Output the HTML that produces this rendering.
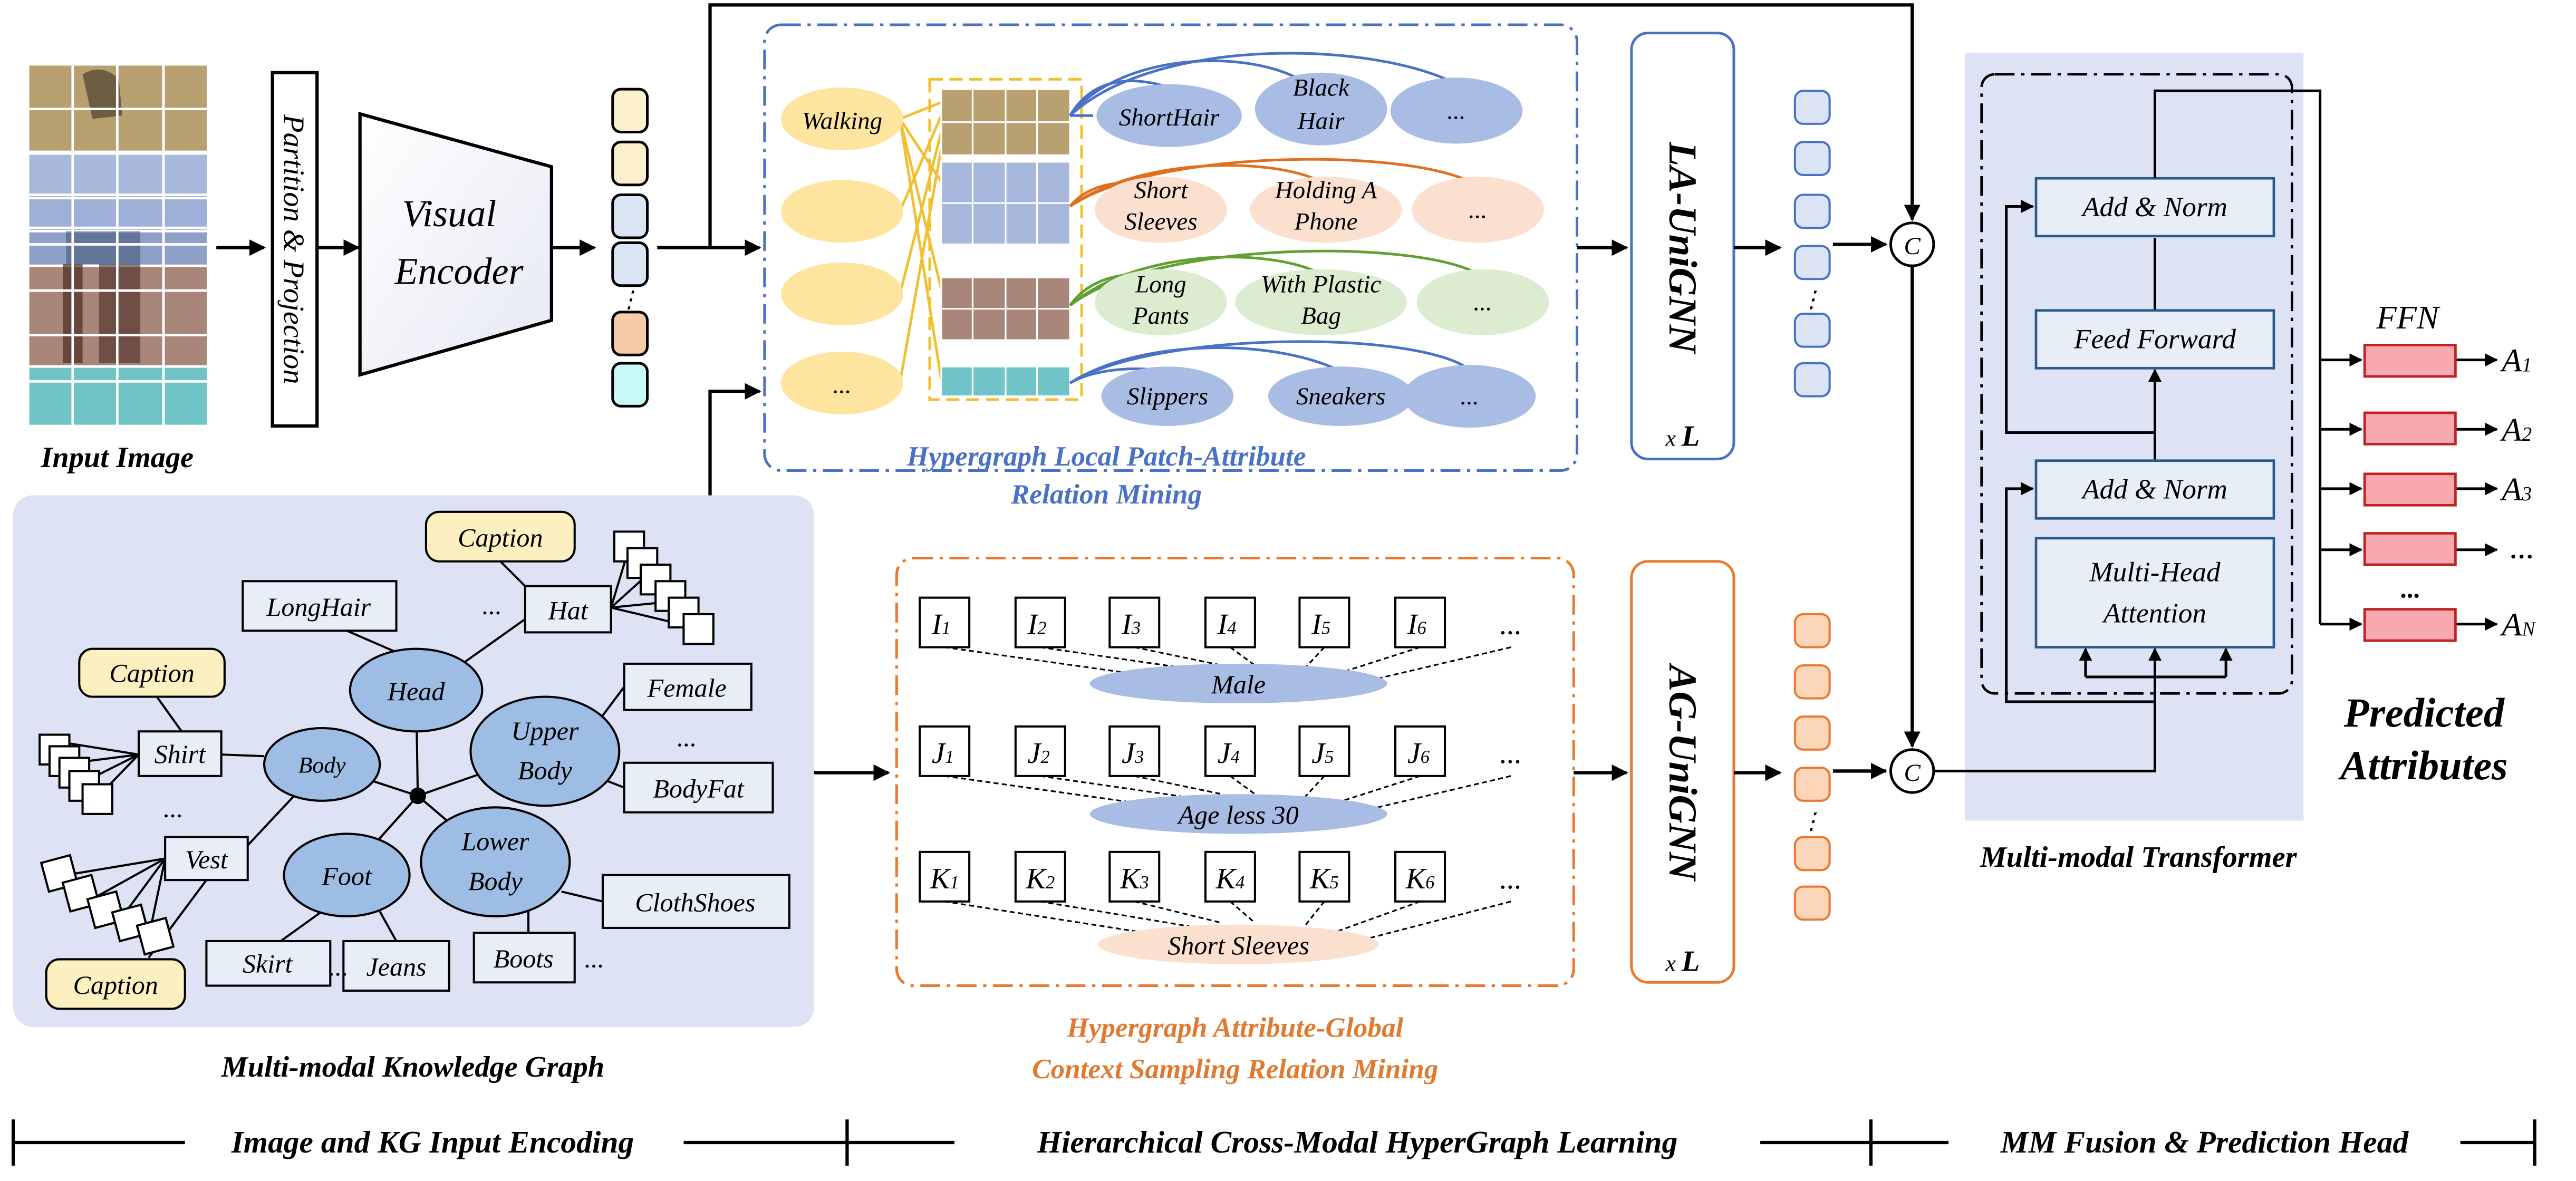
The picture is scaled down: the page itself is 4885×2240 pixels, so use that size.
<!DOCTYPE html>
<html><head><meta charset="utf-8"><style>
html,body{margin:0;padding:0;background:#fff;}
svg{display:block;}
text{font-family:"Liberation Serif",serif;font-style:italic;}
</style></head><body>
<svg width="4885" height="2240" viewBox="0 0 1560 715.3" preserveAspectRatio="none" xmlns="http://www.w3.org/2000/svg">
<defs>
<marker id="ar" viewBox="0 0 10 10" refX="9" refY="5" markerWidth="5" markerHeight="5" orient="auto"><path d="M0,0L10,5L0,10z" fill="#000"/></marker>
<linearGradient id="eg" x1="0" y1="0" x2="1" y2="1"><stop offset="0" stop-color="#fff"/><stop offset="1" stop-color="#e6e8f4"/></linearGradient>
</defs>

<!-- input image -->
<g>
<rect x="17" y="39" width="109" height="219" fill="#fff"/>
<g stroke="#fff" stroke-width="1.5">
<rect x="17" y="39" width="109" height="53" fill="#b8a070"/>
<rect x="17" y="92" width="109" height="68" fill="#a8b8dc"/>
<rect x="17" y="118" width="109" height="20" fill="#9eb0d8"/>
<rect x="17" y="140" width="109" height="21" fill="#8ea0c8"/>
<rect x="17" y="161" width="109" height="61" fill="#a8877a"/>
<rect x="17" y="222" width="109" height="36" fill="#70c4c8"/>
</g>
<path d="M50 45 Q62 38 72 48 L74 70 L56 72Z" fill="#3a3024" opacity=".6"/>
<rect x="38" y="160" width="12" height="60" fill="#4a2a22" opacity=".7"/>
<rect x="60" y="160" width="25" height="60" fill="#4a2a22" opacity=".6"/>
<rect x="40" y="140" width="45" height="20" fill="#3a4a70" opacity=".5"/>
<g stroke="#fff" stroke-width="1.5">
<line x1="44" y1="39" x2="44" y2="258"/><line x1="71" y1="39" x2="71" y2="258"/><line x1="99" y1="39" x2="99" y2="258"/>
<line x1="17" y1="66" x2="126" y2="66"/><line x1="17" y1="93" x2="126" y2="93"/><line x1="17" y1="120" x2="126" y2="120"/><line x1="17" y1="148" x2="126" y2="148"/><line x1="17" y1="176" x2="126" y2="176"/><line x1="17" y1="203" x2="126" y2="203"/><line x1="17" y1="231" x2="126" y2="231"/>
</g>
</g>
<text x="71" y="283" font-size="18" font-weight="bold" text-anchor="middle">Input Image</text>

<line x1="131" y1="150" x2="160" y2="150" stroke="#000" stroke-width="2" marker-end="url(#ar)"/>
<rect x="165" y="44" width="27" height="214" fill="#fff" stroke="#000" stroke-width="2"/>
<text transform="translate(172,151) rotate(90)" font-size="18" text-anchor="middle">Partition &amp; Projection</text>
<line x1="192" y1="150" x2="217" y2="150" stroke="#000" stroke-width="2" marker-end="url(#ar)"/>
<path d="M218,69 L334,101 L334,194 L218,227Z" fill="url(#eg)" stroke="#000" stroke-width="2"/>
<text x="272" y="137" font-size="23" text-anchor="middle">Visual</text>
<text x="278" y="172" font-size="23" text-anchor="middle">Encoder</text>
<line x1="334" y1="150" x2="360" y2="150" stroke="#000" stroke-width="2" marker-end="url(#ar)"/>
<g stroke="#000" stroke-width="1.6">
<rect x="371" y="54" width="21" height="26" rx="5" fill="#fdf0cf"/>
<rect x="371" y="86" width="21" height="26" rx="5" fill="#fdf0cf"/>
<rect x="371" y="118" width="21" height="26" rx="5" fill="#dbe4f2"/>
<rect x="371" y="147" width="21" height="26" rx="5" fill="#dbe4f2"/>
<rect x="371" y="189" width="21" height="26" rx="5" fill="#f5cba8"/>
<rect x="371" y="220" width="21" height="26" rx="5" fill="#c8f8f8"/>
</g>
<text x="381" y="186" font-size="14" text-anchor="middle">⋮</text>

<!-- connections to hypergraph -->
<line x1="398" y1="150" x2="460" y2="150" stroke="#000" stroke-width="2" marker-end="url(#ar)"/>
<polyline points="430,150 430,3 1158,3 1158,133" fill="none" stroke="#000" stroke-width="2" marker-end="url(#ar)"/>
<polyline points="430,300 430,237 460,237" fill="none" stroke="#000" stroke-width="2" marker-end="url(#ar)"/>

<!-- hypergraph local box -->
<rect x="463" y="15" width="492" height="270" rx="10" fill="#fff" stroke="#4a72c4" stroke-width="1.6" stroke-dasharray="12,4,2,4"/>
<g stroke="#f0c030" stroke-width="1.6" fill="none">
<line x1="545" y1="72" x2="570" y2="62"/><line x1="545" y1="72" x2="570" y2="110"/><line x1="545" y1="72" x2="570" y2="175"/><line x1="545" y1="72" x2="570" y2="230"/>
<line x1="545" y1="128" x2="570" y2="70"/><line x1="545" y1="178" x2="570" y2="80"/><line x1="545" y1="232" x2="570" y2="90"/>
</g>
<g fill="#fde5a0">
<ellipse cx="510" cy="72" rx="37" ry="19"/><ellipse cx="510" cy="128" rx="37" ry="19"/><ellipse cx="510" cy="178" rx="37" ry="19"/><ellipse cx="510" cy="232" rx="37" ry="19"/>
</g>
<text x="510" y="78" font-size="15" text-anchor="middle">Walking</text>
<text x="510" y="238" font-size="15" text-anchor="middle">...</text>
<rect x="563" y="48" width="92" height="194" fill="none" stroke="#f0c030" stroke-width="1.6" stroke-dasharray="8,4"/>
<g stroke="#fff" stroke-width="1">
<rect x="570" y="54" width="78" height="40" fill="#b8a070"/>
<rect x="570" y="98" width="78" height="50" fill="#a8b8dc"/>
<rect x="570" y="168" width="78" height="38" fill="#a8877a"/>
<rect x="570" y="222" width="78" height="18" fill="#70c4c8"/>
<line x1="589" y1="54" x2="589" y2="240"/><line x1="609" y1="54" x2="609" y2="240"/><line x1="628" y1="54" x2="628" y2="240"/>
<line x1="570" y1="74" x2="648" y2="74"/><line x1="570" y1="123" x2="648" y2="123"/><line x1="570" y1="187" x2="648" y2="187"/>
</g>
<!-- curves -->
<g fill="none" stroke-width="1.6">
<path d="M648,70 C660,50 680,45 705,52" stroke="#4a72c4"/>
<path d="M648,70 C680,30 760,30 790,50" stroke="#4a72c4"/>
<path d="M648,70 C700,22 830,25 880,50" stroke="#4a72c4"/>
<path d="M648,70 L662,70" stroke="#4a72c4"/>
<path d="M648,125 C660,110 680,110 700,110" stroke="#e07020"/>
<path d="M648,125 C690,95 770,95 800,110" stroke="#e07020"/>
<path d="M648,125 C700,90 850,90 890,110" stroke="#e07020"/>
<path d="M648,185 C660,168 680,165 700,166" stroke="#60a030"/>
<path d="M648,185 C690,150 770,150 800,166" stroke="#60a030"/>
<path d="M648,185 C700,145 860,145 895,166" stroke="#60a030"/>
<path d="M648,232 C660,225 680,222 700,224" stroke="#4a72c4"/>
<path d="M648,232 C690,205 770,205 810,224" stroke="#4a72c4"/>
<path d="M648,232 C700,200 860,200 890,224" stroke="#4a72c4"/>
</g>
<g font-size="15" text-anchor="middle">
<ellipse cx="708" cy="70" rx="44" ry="19" fill="#a8bce4"/><text x="708" y="76">ShortHair</text>
<ellipse cx="800" cy="66" rx="40" ry="22" fill="#a8bce4"/><text x="800" y="58">Black</text><text x="800" y="78">Hair</text>
<ellipse cx="882" cy="67" rx="40" ry="20" fill="#a8bce4"/><text x="882" y="72">...</text>
<ellipse cx="703" cy="127" rx="40" ry="20" fill="#fbe0d0"/><text x="703" y="120">Short</text><text x="703" y="139">Sleeves</text>
<ellipse cx="803" cy="127" rx="46" ry="20" fill="#fbe0d0"/><text x="803" y="120">Holding A</text><text x="803" y="139">Phone</text>
<ellipse cx="895" cy="127" rx="40" ry="20" fill="#fbe0d0"/><text x="895" y="132">...</text>
<ellipse cx="703" cy="183" rx="40" ry="20" fill="#dcecd0"/><text x="703" y="177">Long</text><text x="703" y="196">Pants</text>
<ellipse cx="800" cy="183" rx="52" ry="20" fill="#dcecd0"/><text x="800" y="177">With Plastic</text><text x="800" y="196">Bag</text>
<ellipse cx="898" cy="183" rx="40" ry="20" fill="#dcecd0"/><text x="898" y="188">...</text>
<ellipse cx="707" cy="240" rx="40" ry="18" fill="#a8bce4"/><text x="707" y="245">Slippers</text>
<ellipse cx="812" cy="240" rx="44" ry="18" fill="#a8bce4"/><text x="812" y="245">Sneakers</text>
<ellipse cx="890" cy="240" rx="40" ry="19" fill="#a8bce4"/><text x="890" y="245">...</text>
</g>
<text x="670" y="282" font-size="17" font-weight="bold" fill="#4a72c4" text-anchor="middle">Hypergraph Local Patch-Attribute</text>
<text x="670" y="305" font-size="17" font-weight="bold" fill="#4a72c4" text-anchor="middle">Relation Mining</text>

<!-- LA-UniGNN -->
<line x1="955" y1="150" x2="985" y2="150" stroke="#000" stroke-width="2" marker-end="url(#ar)"/>
<rect x="988" y="20" width="62" height="258" rx="10" fill="#fff" stroke="#4a72c4" stroke-width="1.6"/>
<text transform="translate(1011,150) rotate(90)" font-size="24" font-weight="bold" text-anchor="middle">LA-UniGNN</text>
<text x="1019" y="270" font-size="14" text-anchor="middle">x <tspan font-size="18" font-weight="bold">L</tspan></text>
<line x1="1050" y1="150" x2="1078" y2="150" stroke="#000" stroke-width="2" marker-end="url(#ar)"/>
<g fill="#dbe4f5" stroke="#4a72c4" stroke-width="1.3">
<rect x="1087" y="55" width="21" height="20" rx="5"/><rect x="1087" y="86" width="21" height="20" rx="5"/><rect x="1087" y="118" width="21" height="20" rx="5"/><rect x="1087" y="149" width="21" height="20" rx="5"/><rect x="1087" y="190" width="21" height="20" rx="5"/><rect x="1087" y="220" width="21" height="20" rx="5"/>
</g>
<text x="1097" y="186" font-size="14" text-anchor="middle">⋮</text>
<line x1="1110" y1="148" x2="1142" y2="148" stroke="#000" stroke-width="2" marker-end="url(#ar)"/>
<circle cx="1158" cy="148" r="13" fill="#fff" stroke="#000" stroke-width="1.6"/>
<text x="1158" y="154" font-size="15" text-anchor="middle" font-style="normal">C</text>
<line x1="1158" y1="161" x2="1158" y2="452" stroke="#000" stroke-width="2" marker-end="url(#ar)"/>

<!-- KG -->
<rect x="8" y="300" width="485" height="322" rx="12" fill="#dde2f4"/>
<g stroke="#000" stroke-width="1.3" fill="none">
<line x1="253" y1="482" x2="252" y2="418"/><line x1="253" y1="482" x2="195" y2="463"/><line x1="253" y1="482" x2="330" y2="455"/><line x1="253" y1="482" x2="210" y2="530"/><line x1="253" y1="482" x2="300" y2="522"/>
<line x1="240" y1="395" x2="210" y2="382"/><line x1="280" y1="402" x2="318" y2="375"/>
<line x1="160" y1="458" x2="134" y2="457"/><line x1="360" y1="440" x2="378" y2="416"/><line x1="360" y1="470" x2="378" y2="477"/>
<line x1="180" y1="480" x2="150" y2="512"/><line x1="320" y1="550" x2="320" y2="565"/><line x1="340" y1="540" x2="365" y2="546"/>
<line x1="195" y1="552" x2="170" y2="570"/><line x1="230" y1="552" x2="240" y2="570"/>
<line x1="110" y1="443" x2="95" y2="422"/><line x1="125" y1="533" x2="90" y2="580"/><line x1="318" y1="355" x2="303" y2="340"/>
<line x1="84" y1="457" x2="40" y2="450"/><line x1="84" y1="457" x2="45" y2="462"/><line x1="84" y1="457" x2="50" y2="474"/><line x1="84" y1="457" x2="56" y2="486"/>
<line x1="100" y1="520" x2="40" y2="530"/><line x1="100" y1="520" x2="55" y2="545"/><line x1="100" y1="520" x2="72" y2="558"/><line x1="100" y1="520" x2="90" y2="568"/>
<line x1="370" y1="368" x2="380" y2="335"/><line x1="370" y1="368" x2="390" y2="350"/><line x1="370" y1="368" x2="400" y2="365"/><line x1="370" y1="368" x2="412" y2="378"/>
</g>
<circle cx="253" cy="482" r="5" fill="#000"/>
<g fill="#fff" stroke="#000" stroke-width="1.3">
<rect x="372" y="322" width="18" height="18"/><rect x="380" y="332" width="18" height="18"/><rect x="388" y="342" width="18" height="18"/><rect x="397" y="352" width="18" height="18"/><rect x="405" y="362" width="18" height="18"/><rect x="414" y="372" width="18" height="18"/>
<rect x="24" y="445" width="18" height="18"/><rect x="30" y="452" width="18" height="18"/><rect x="36" y="459" width="18" height="18"/><rect x="42" y="467" width="18" height="18"/><rect x="50" y="475" width="18" height="18"/>
<rect x="27" y="520" width="18" height="18" transform="rotate(-15 36 529)"/><rect x="40" y="532" width="18" height="18" transform="rotate(-15 49 541)"/><rect x="55" y="542" width="18" height="18" transform="rotate(-15 64 551)"/><rect x="70" y="550" width="18" height="18" transform="rotate(-15 79 559)"/><rect x="85" y="558" width="18" height="18" transform="rotate(-15 94 567)"/>
</g>
<g fill="#9dbde4" stroke="#000" stroke-width="1.3">
<ellipse cx="252" cy="418" rx="40" ry="25"/><ellipse cx="195" cy="463" rx="35" ry="22"/><ellipse cx="330" cy="455" rx="45" ry="33"/><ellipse cx="210" cy="530" rx="38" ry="25"/><ellipse cx="300" cy="522" rx="45" ry="33"/>
</g>
<g fill="#e8eef8" stroke="#000" stroke-width="1.3">
<rect x="147" y="352" width="93" height="30"/><rect x="318" y="355" width="52" height="28"/><rect x="378" y="402" width="77" height="28"/><rect x="378" y="462" width="90" height="30"/><rect x="84" y="443" width="50" height="27"/><rect x="100" y="507" width="50" height="26"/><rect x="365" y="530" width="113" height="32"/><rect x="287" y="565" width="61" height="30"/><rect x="125" y="570" width="75" height="27"/><rect x="208" y="570" width="64" height="30"/>
</g>
<g fill="#fdf0c0" stroke="#000" stroke-width="1.3">
<rect x="258" y="310" width="90" height="30" rx="8"/><rect x="48" y="393" width="88" height="29" rx="8"/><rect x="28" y="581" width="84" height="30" rx="8"/>
</g>
<g font-size="16" text-anchor="middle">
<text x="252" y="424">Head</text><text x="195" y="468" font-size="14">Body</text><text x="330" y="448">Upper</text><text x="330" y="472">Body</text><text x="210" y="536">Foot</text><text x="300" y="515">Lower</text><text x="300" y="539">Body</text>
<text x="193" y="373">LongHair</text><text x="344" y="375">Hat</text><text x="416" y="422">Female</text><text x="423" y="483">BodyFat</text><text x="109" y="462">Shirt</text><text x="125" y="526">Vest</text><text x="421" y="552">ClothShoes</text><text x="317" y="586">Boots</text><text x="162" y="589">Skirt</text><text x="240" y="591">Jeans</text>
<text x="303" y="331">Caption</text><text x="92" y="413">Caption</text><text x="70" y="602">Caption</text>
<text x="298" y="372">...</text><text x="416" y="452">...</text><text x="105" y="495">...</text><text x="205" y="591">...</text><text x="360" y="586">...</text>
</g>
<text x="250" y="652" font-size="18" font-weight="bold" text-anchor="middle">Multi-modal Knowledge Graph</text>
<line x1="493" y1="468" x2="538" y2="468" stroke="#000" stroke-width="2" marker-end="url(#ar)"/>

<!-- hypergraph global box -->
<rect x="543" y="338" width="410" height="259" rx="10" fill="#fff" stroke="#e87a30" stroke-width="1.6" stroke-dasharray="12,4,2,4"/>
<g stroke="#000" stroke-width="1" stroke-dasharray="3,2" fill="none">
<path d="M572,392L700,410M630,392L720,405M687,392L740,403M745,392L760,403M802,392L790,405M860,392L810,408M915,392L830,412"/>
<path d="M572,470L700,488M630,470L720,483M687,470L740,481M745,470L760,481M802,470L790,483M860,470L810,486M915,470L830,490"/>
<path d="M572,546L700,566M630,546L720,561M687,546L740,559M745,546L760,559M802,546L790,561M860,546L810,564M915,546L830,568"/>
</g>
<ellipse cx="750" cy="414" rx="90" ry="12" fill="#a8bce4"/><text x="750" y="420" font-size="16" text-anchor="middle">Male</text>
<ellipse cx="750" cy="493" rx="90" ry="12" fill="#a8bce4"/><text x="750" y="499" font-size="16" text-anchor="middle">Age less 30</text>
<ellipse cx="750" cy="572" rx="85" ry="12" fill="#fbe0d0"/><text x="750" y="578" font-size="16" text-anchor="middle">Short Sleeves</text>
<g fill="#fff" stroke="#000" stroke-width="1.3">
<rect x="557" y="362" width="30" height="30"/><rect x="615" y="362" width="30" height="30"/><rect x="672" y="362" width="30" height="30"/><rect x="730" y="362" width="30" height="30"/><rect x="787" y="362" width="30" height="30"/><rect x="845" y="362" width="30" height="30"/>
<rect x="557" y="440" width="30" height="30"/><rect x="615" y="440" width="30" height="30"/><rect x="672" y="440" width="30" height="30"/><rect x="730" y="440" width="30" height="30"/><rect x="787" y="440" width="30" height="30"/><rect x="845" y="440" width="30" height="30"/>
<rect x="557" y="516" width="30" height="30"/><rect x="615" y="516" width="30" height="30"/><rect x="672" y="516" width="30" height="30"/><rect x="730" y="516" width="30" height="30"/><rect x="787" y="516" width="30" height="30"/><rect x="845" y="516" width="30" height="30"/>
</g>
<g font-size="18" text-anchor="middle">
<text x="570" y="384">I<tspan font-size="11">1</tspan></text><text x="628" y="384">I<tspan font-size="11">2</tspan></text><text x="685" y="384">I<tspan font-size="11">3</tspan></text><text x="743" y="384">I<tspan font-size="11">4</tspan></text><text x="800" y="384">I<tspan font-size="11">5</tspan></text><text x="858" y="384">I<tspan font-size="11">6</tspan></text><text x="915" y="384">...</text>
<text x="571" y="462">J<tspan font-size="11">1</tspan></text><text x="629" y="462">J<tspan font-size="11">2</tspan></text><text x="686" y="462">J<tspan font-size="11">3</tspan></text><text x="744" y="462">J<tspan font-size="11">4</tspan></text><text x="801" y="462">J<tspan font-size="11">5</tspan></text><text x="859" y="462">J<tspan font-size="11">6</tspan></text><text x="915" y="462">...</text>
<text x="572" y="538">K<tspan font-size="11">1</tspan></text><text x="630" y="538">K<tspan font-size="11">2</tspan></text><text x="687" y="538">K<tspan font-size="11">3</tspan></text><text x="745" y="538">K<tspan font-size="11">4</tspan></text><text x="802" y="538">K<tspan font-size="11">5</tspan></text><text x="860" y="538">K<tspan font-size="11">6</tspan></text><text x="915" y="538">...</text>
</g>
<text x="748" y="628" font-size="17" font-weight="bold" fill="#e07a30" text-anchor="middle">Hypergraph Attribute-Global</text>
<text x="748" y="653" font-size="17" font-weight="bold" fill="#e07a30" text-anchor="middle">Context Sampling Relation Mining</text>

<!-- AG-UniGNN -->
<line x1="953" y1="468" x2="985" y2="468" stroke="#000" stroke-width="2" marker-end="url(#ar)"/>
<rect x="988" y="340" width="62" height="255" rx="10" fill="#fff" stroke="#e87a30" stroke-width="1.6"/>
<text transform="translate(1011,468) rotate(90)" font-size="24" font-weight="bold" text-anchor="middle">AG-UniGNN</text>
<text x="1019" y="588" font-size="14" text-anchor="middle">x <tspan font-size="18" font-weight="bold">L</tspan></text>
<line x1="1050" y1="468" x2="1078" y2="468" stroke="#000" stroke-width="2" marker-end="url(#ar)"/>
<g fill="#fbd6b8" stroke="#e87a30" stroke-width="1.3">
<rect x="1087" y="372" width="21" height="20" rx="5"/><rect x="1087" y="403" width="21" height="20" rx="5"/><rect x="1087" y="434" width="21" height="20" rx="5"/><rect x="1087" y="465" width="21" height="20" rx="5"/><rect x="1087" y="507" width="21" height="20" rx="5"/><rect x="1087" y="537" width="21" height="20" rx="5"/>
</g>
<text x="1097" y="502" font-size="14" text-anchor="middle">⋮</text>
<line x1="1110" y1="467" x2="1142" y2="467" stroke="#000" stroke-width="2" marker-end="url(#ar)"/>
<circle cx="1158" cy="467" r="13" fill="#fff" stroke="#000" stroke-width="1.6"/>
<text x="1158" y="473" font-size="15" text-anchor="middle" font-style="normal">C</text>

<!-- transformer -->
<rect x="1190" y="32" width="205" height="465" fill="#dde2f4"/>
<rect x="1200" y="45" width="188" height="375" rx="8" fill="none" stroke="#000" stroke-width="1.5" stroke-dasharray="12,4,2,4"/>
<polyline points="1171,467 1305,467 1305,410" fill="none" stroke="#000" stroke-width="1.6"/>
<line x1="1263" y1="410" x2="1348" y2="410" stroke="#000" stroke-width="1.6"/>
<line x1="1263" y1="410" x2="1263" y2="393" stroke="#000" stroke-width="1.6" marker-end="url(#ar)"/>
<line x1="1305" y1="410" x2="1305" y2="393" stroke="#000" stroke-width="1.6" marker-end="url(#ar)"/>
<line x1="1348" y1="410" x2="1348" y2="393" stroke="#000" stroke-width="1.6" marker-end="url(#ar)"/>
<polyline points="1305,425 1215,425 1215,296 1231,296" fill="none" stroke="#000" stroke-width="1.6" marker-end="url(#ar)"/>
<polyline points="1305,262 1215,262 1215,125 1231,125" fill="none" stroke="#000" stroke-width="1.6" marker-end="url(#ar)"/>
<line x1="1305" y1="279" x2="1305" y2="224" stroke="#000" stroke-width="1.6" marker-end="url(#ar)"/>
<line x1="1305" y1="188" x2="1305" y2="144" stroke="#000" stroke-width="1.6"/>
<g fill="#e8eef8" stroke="#2a5a8a" stroke-width="1.5">
<rect x="1233" y="108" width="144" height="35"/><rect x="1233" y="188" width="144" height="35"/><rect x="1233" y="279" width="144" height="35"/><rect x="1233" y="326" width="144" height="66"/>
</g>
<g font-size="17" text-anchor="middle">
<text x="1305" y="131">Add &amp; Norm</text><text x="1305" y="211">Feed Forward</text><text x="1305" y="302">Add &amp; Norm</text><text x="1305" y="352">Multi-Head</text><text x="1305" y="377">Attention</text>
</g>
<text x="1295" y="525" font-size="18" font-weight="bold" text-anchor="middle">Multi-modal Transformer</text>

<!-- outputs -->
<polyline points="1305,108 1305,55 1405,55 1405,378" fill="none" stroke="#000" stroke-width="1.6"/>
<g stroke="#000" stroke-width="1.6">
<line x1="1405" y1="218" x2="1430" y2="218" marker-end="url(#ar)"/><line x1="1405" y1="260" x2="1430" y2="260" marker-end="url(#ar)"/><line x1="1405" y1="296" x2="1430" y2="296" marker-end="url(#ar)"/><line x1="1405" y1="333" x2="1430" y2="333" marker-end="url(#ar)"/><line x1="1405" y1="378" x2="1430" y2="378" marker-end="url(#ar)"/>
<line x1="1487" y1="218" x2="1512" y2="218" marker-end="url(#ar)"/><line x1="1487" y1="260" x2="1512" y2="260" marker-end="url(#ar)"/><line x1="1487" y1="296" x2="1512" y2="296" marker-end="url(#ar)"/><line x1="1487" y1="333" x2="1512" y2="333" marker-end="url(#ar)"/><line x1="1487" y1="378" x2="1512" y2="378" marker-end="url(#ar)"/>
</g>
<g fill="#f8a8b0" stroke="#c02020" stroke-width="1.5">
<rect x="1432" y="209" width="55" height="19"/><rect x="1432" y="250" width="55" height="19"/><rect x="1432" y="287" width="55" height="19"/><rect x="1432" y="323" width="55" height="19"/><rect x="1432" y="369" width="55" height="19"/>
</g>
<text x="1458" y="199" font-size="20" text-anchor="middle">FFN</text>
<text x="1460" y="362" font-size="16" font-weight="bold" text-anchor="middle">...</text>
<g font-size="20">
<text x="1515" y="225">A<tspan font-size="12">1</tspan></text><text x="1515" y="267">A<tspan font-size="12">2</tspan></text><text x="1515" y="303">A<tspan font-size="12">3</tspan></text><text x="1520" y="338">...</text><text x="1515" y="385">A<tspan font-size="12">N</tspan></text>
</g>
<text x="1468" y="440" font-size="25" font-weight="bold" text-anchor="middle">Predicted</text>
<text x="1468" y="472" font-size="25" font-weight="bold" text-anchor="middle">Attributes</text>

<!-- timeline -->
<g stroke="#000" stroke-width="2">
<line x1="8" y1="692" x2="1535" y2="692"/>
<line x1="8" y1="678" x2="8" y2="706"/><line x1="513" y1="678" x2="513" y2="706"/><line x1="1133" y1="678" x2="1133" y2="706"/><line x1="1535" y1="678" x2="1535" y2="706"/>
</g>
<g font-size="19" font-weight="bold" text-anchor="middle">
<rect x="112" y="680" width="302" height="24" fill="#fff"/><text x="262" y="698">Image and KG Input Encoding</text>
<rect x="578" y="680" width="488" height="24" fill="#fff"/><text x="822" y="698">Hierarchical Cross-Modal HyperGraph Learning</text>
<rect x="1180" y="680" width="310" height="24" fill="#fff"/><text x="1335" y="698">MM Fusion &amp; Prediction Head</text>
</g>
</svg>
</body></html>
